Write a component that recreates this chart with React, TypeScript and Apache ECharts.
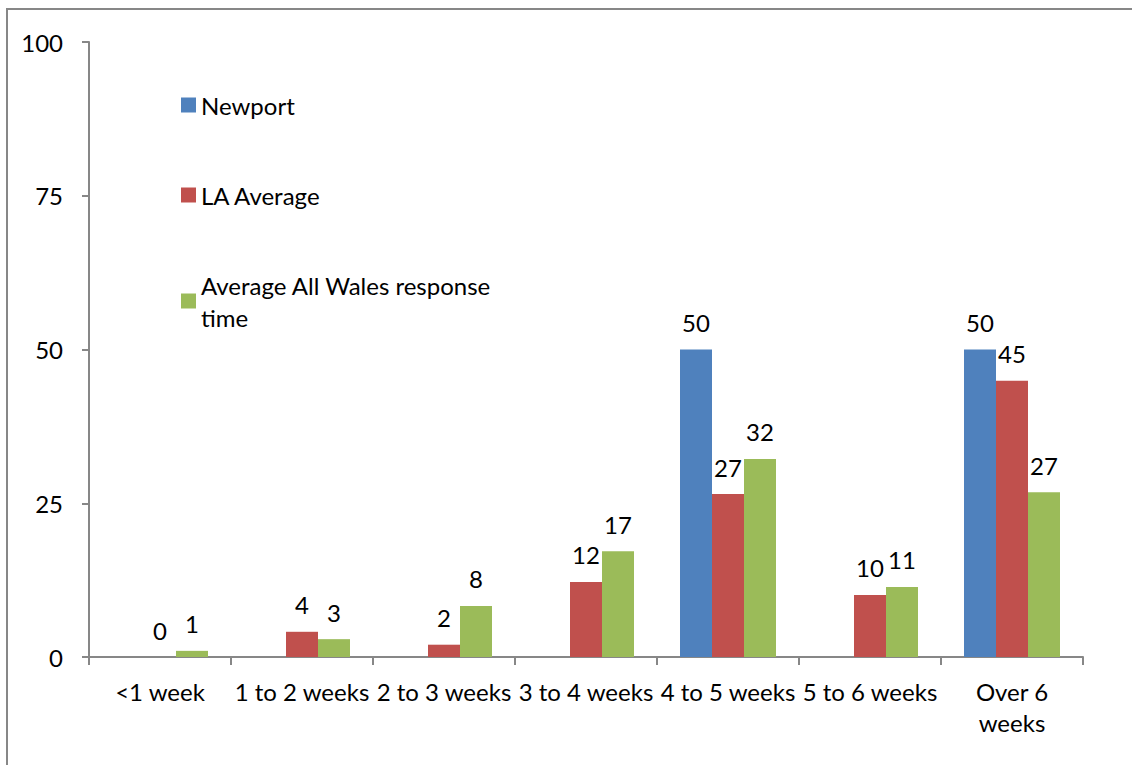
import React, { useEffect, useRef } from "react";
import * as echarts from "echarts";

const categories = ["<1 week", "1 to 2 weeks", "2 to 3 weeks", "3 to 4 weeks", "4 to 5 weeks", "5 to 6 weeks", "Over 6 weeks"];
const newport = [null, null, null, null, 50, null, 50];
const laAverage = [0, 4.1, 2, 12.2, 26.5, 10.1, 44.9];
const allWales = [1, 2.9, 8.3, 17.2, 32.2, 11.4, 26.8];
const yTicks = [0, 25, 50, 75, 100];

const FONT = "Lato";
const FS = 24;

export default function App() {
  const ref = useRef<HTMLDivElement>(null);
  useEffect(() => {
    document.body.style.margin = "0";
    const chart = echarts.init(ref.current!, null, { renderer: "svg" });
    const label = {
      show: true,
      position: "top",
      distance: 15,
      color: "#000",
      fontFamily: FONT,
      fontSize: FS,
      formatter: (p: any) => String(Math.round(p.value)),
    };
    const mk = (name: string, data: any[], color: string) => ({
      name,
      type: "bar",
      data,
      barWidth: 32,
      barGap: "0%",
      itemStyle: { color },
      label,
    });
    chart.setOption({
      animation: false,
      textStyle: { fontFamily: FONT },
      graphic: [
        {
          type: "rect",
          shape: { x: 7, y: 9, width: 1200, height: 900 },
          style: { fill: "none", stroke: "#878787", lineWidth: 2 },
          silent: true,
        },
      ],
      legend: {
        orient: "vertical",
        left: 181,
        top: 89,
        itemWidth: 15,
        itemHeight: 15,
        itemGap: 58,
        icon: "rect",
        padding: 0,
        textStyle: { color: "#000", fontSize: FS, fontFamily: FONT, lineHeight: 32 },
        formatter: (n: string) => (n === "Average All Wales response time" ? "Average All Wales response\ntime" : n),
        data: ["Newport", "LA Average", "Average All Wales response time"],
      },
      grid: { left: 89, right: 49, top: 42, bottom: 108, containLabel: false },
      xAxis: {
        type: "category",
        data: categories,
        axisLine: { lineStyle: { color: "#878787", width: 2 } },
        axisTick: { show: true, length: 8, alignWithLabel: false, lineStyle: { color: "#878787", width: 2 } },
        axisLabel: {
          color: "#000",
          fontSize: FS,
          fontFamily: FONT,
          margin: 19,
          interval: 0,
          lineHeight: 31,
          formatter: (v: string) => (v === "Over 6 weeks" ? "Over 6\nweeks" : v),
        },
      },
      yAxis: {
        type: "value",
        min: yTicks[0],
        max: yTicks[yTicks.length - 1],
        interval: 25,
        splitLine: { show: false },
        axisLine: { show: true, lineStyle: { color: "#878787", width: 2 } },
        axisTick: { show: true, length: 7, lineStyle: { color: "#878787", width: 2 } },
        axisLabel: { color: "#000", fontSize: FS, fontFamily: FONT, margin: 26 },
      },
      series: [
        mk("Newport", newport, "#4F81BD"),
        mk("LA Average", laAverage, "#C0504D"),
        mk("Average All Wales response time", allWales, "#9BBB59"),
      ],
    });
    return () => chart.dispose();
  }, []);
  return <div ref={ref} style={{ width: 1132, height: 765 }} />;
}
